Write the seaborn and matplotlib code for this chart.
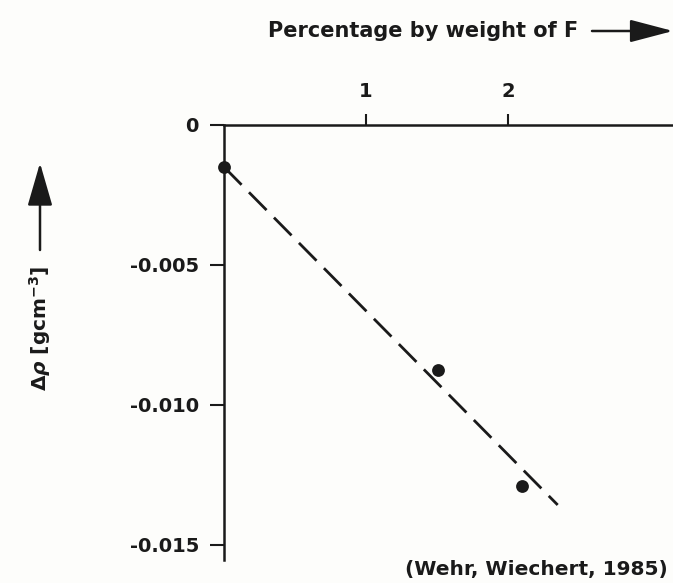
import matplotlib
matplotlib.use("Agg")
import matplotlib.pyplot as plt
import seaborn as sns
import pandas as pd

# ---- data ----
pct_F = [0.0, 1.51, 2.10]                 # percentage by weight of F
delta_rho = [-0.0015, -0.00875, -0.0129]  # density change, g/cm^3
fit_x = [0.0, 2.35]                       # dashed trend line end points
fit_y = [-0.0015, -0.01357]
x_ticks = [1, 2]
x_ticklabels = ["1", "2"]
y_ticks = [0.0, -0.005, -0.010, -0.015]
y_ticklabels = ["0", "-0.005", "-0.010", "-0.015"]
x_label = "Percentage by weight of F"
y_label = "Δ$\\mathit{\\rho}$ [gcm$^{-3}$]"
source = "(Wehr, Wiechert, 1985)"

sns.set_theme(style="white")
plt.rcParams["font.family"] = ["DejaVu Sans"]
plt.rcParams["font.weight"] = "bold"
plt.rcParams["mathtext.default"] = "regular"

W, H = 673, 583
bg = "#fdfdfb"
ink = "#1a1a1a"
fig = plt.figure(figsize=(W / 100, H / 100), dpi=100, facecolor=bg)

def fx(px):
    return px / W

def fy(py):
    return 1 - py / H

ax = fig.add_axes([fx(224), fy(560), fx(673 - 224), (560 - 125) / H])
ax.set_facecolor(bg)

pts = pd.DataFrame({"x": pct_F, "y": delta_rho})
fit = pd.DataFrame({"x": fit_x, "y": fit_y})

sns.lineplot(data=fit, x="x", y="y", ax=ax, color=ink, lw=2.0,
             dashes=False, linestyle=(0, (9.0, 3.8)), clip_on=False)
sns.scatterplot(data=pts, x="x", y="y", ax=ax, color=ink, s=85,
                edgecolor=ink, linewidth=0, clip_on=False, zorder=5)

ax.set_xlim(0, (673 - 224) / 142)
ax.set_ylim(-(560 - 125) / 28000, 0)

for s in ["right", "bottom"]:
    ax.spines[s].set_visible(False)
for s in ["top", "left"]:
    ax.spines[s].set_visible(True)
    ax.spines[s].set_color(ink)
    ax.spines[s].set_linewidth(1.8)

ax.xaxis.tick_top()
ax.set_xticks(x_ticks)
ax.set_xticklabels(x_ticklabels)
ax.set_yticks(y_ticks)
ax.set_yticklabels(y_ticklabels)
ax.tick_params(axis="x", which="major", direction="out", length=8, width=1.5,
               color=ink, labelsize=14, labelcolor=ink, pad=9, top=True, bottom=False)
ax.tick_params(axis="y", which="major", direction="out", length=10, width=1.5,
               color=ink, labelsize=14, labelcolor=ink, pad=8, left=True)
ax.set_xlabel("")
ax.set_ylabel("")

# axis titles with arrows
fig.text(fx(268), fy(31), x_label, fontsize=15, fontweight="bold", color=ink,
         ha="left", va="center")
fig.add_artist(matplotlib.patches.FancyArrowPatch(
    (fx(592), fy(31)), (fx(673), fy(31)), transform=fig.transFigure,
    arrowstyle="-|>,head_length=1.9,head_width=0.5", mutation_scale=14,
    shrinkA=0, shrinkB=0, color=ink, lw=1.8))

fig.text(fx(40), fy(328), y_label, fontsize=14.5, fontweight="bold", color=ink,
         ha="center", va="center", rotation=90)
fig.add_artist(matplotlib.patches.FancyArrowPatch(
    (fx(40), fy(250)), (fx(40), fy(163)), transform=fig.transFigure,
    arrowstyle="-|>,head_length=1.9,head_width=0.55", mutation_scale=14,
    shrinkA=0, shrinkB=0, color=ink, lw=1.8))

fig.text(fx(405), fy(570), source, fontsize=14.5, fontweight="bold", color=ink,
         ha="left", va="center")

fig.savefig("out.png", dpi=100, facecolor=bg)
